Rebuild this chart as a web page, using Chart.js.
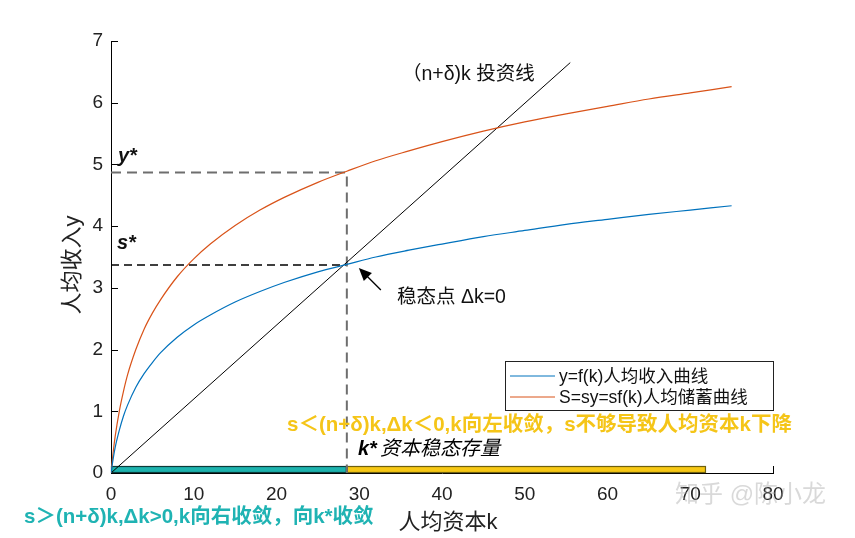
<!DOCTYPE html>
<html>
<head>
<meta charset="utf-8">
<script src="https://cdn.jsdelivr.net/npm/chart.js@4/dist/chart.umd.min.js"></script>
<style>
  html,body{margin:0;padding:0;background:#fff;}
  #wrap{width:855px;height:538px;position:relative;}
</style>
</head>
<body>
<div id="wrap"><canvas id="c" width="855" height="538"></canvas></div>
<script>
// values
const kVals       = [0, 0.25, 0.5, 1, 1.5, 2, 3, 4, 5, 6, 8, 10, 12, 15, 18, 21, 25, 28.5, 32, 36, 40, 45, 50, 55, 60, 65, 70, 75];
const incomeVals  = [0, 0.22, 0.41, 0.69, 0.92, 1.10, 1.39, 1.61, 1.79, 1.95, 2.20, 2.40, 2.56, 2.77, 2.94, 3.09, 3.26, 3.38, 3.50, 3.61, 3.71, 3.83, 3.93, 4.03, 4.11, 4.19, 4.26, 4.33];
const savingVals  = [0, 0.32, 0.59, 1.00, 1.32, 1.59, 2.00, 2.33, 2.59, 2.81, 3.18, 3.47, 3.71, 4.01, 4.26, 4.47, 4.71, 4.89, 5.06, 5.22, 5.37, 5.54, 5.69, 5.82, 5.94, 6.06, 6.16, 6.26];
const investK     = [0, 55.5];
const investY     = [0, 6.65];
const kStar = 28.5;   // steady state capital
const yStar = 4.87;
const sStar = 3.37;
const kBarEnd = 71.9; // yellow bar end
const xTicks = [0, 10, 20, 30, 40, 50, 60, 70, 80];
const yTicks = [0, 1, 2, 3, 4, 5, 6, 7];

const SANS = '"Liberation Sans", "Noto Sans CJK SC", sans-serif';
const BLUE = '#0072BD', ORANGE = '#D95319';

const toPts = (xs, ys) => xs.map((x, i) => ({x, y: ys[i]}));

const annotations = {
  id: 'annotations',
  beforeDatasetsDraw(chart){
    const {ctx, chartArea:a, scales:{x, y}} = chart;
    const y0 = y.getPixelForValue(0);
    ctx.save();
    // inward tick marks (bars cover the lower ones)
    ctx.strokeStyle = '#000';
    ctx.lineWidth = 1;
    ctx.beginPath();
    yTicks.forEach(v => {
      const py = Math.round(y.getPixelForValue(v)) + 0.5;
      ctx.moveTo(a.left, py); ctx.lineTo(a.left + 7, py);
    });
    xTicks.forEach(v => {
      const px = Math.round(x.getPixelForValue(v)) + 0.5;
      ctx.moveTo(px, a.bottom); ctx.lineTo(px, a.bottom - 7);
    });
    ctx.stroke();
    // range bars along k axis
    const bars = [
      {from:0, to:kStar, fill:'#1db3ae', stroke:'#0b3b3a'},
      {from:kStar, to:kBarEnd, fill:'#f7c815', stroke:'#6e6010'}
    ];
    bars.forEach(b => {
      const x1 = x.getPixelForValue(b.from), x2 = x.getPixelForValue(b.to);
      ctx.fillStyle = b.fill;
      ctx.fillRect(x1, y0 - 7, x2 - x1, 7);
      ctx.strokeStyle = b.stroke;
      ctx.lineWidth = 1.2;
      ctx.strokeRect(x1 + 0.5, y0 - 6.5, x2 - x1 - 1, 6);
    });
    ctx.restore();
  },
  afterDraw(chart){
    const {ctx, scales:{x, y}} = chart;
    ctx.save();

    // axis titles
    ctx.fillStyle = '#222';
    ctx.font = '22px ' + SANS;
    ctx.textAlign = 'center';
    ctx.textBaseline = 'middle';
    ctx.fillText('人均资本k', 448, 523);
    ctx.save();
    ctx.translate(73, 265);
    ctx.rotate(-Math.PI / 2);
    ctx.fillText('人均收入y', 0, 0);
    ctx.restore();

    // line label
    ctx.textAlign = 'left';
    ctx.fillStyle = '#111';
    ctx.font = '19.5px ' + SANS;
    ctx.fillText('（n+δ)k 投资线', 402, 75);

    // y*, s*
    ctx.font = 'italic bold 20px ' + SANS;
    ctx.fillText('y*', x.getPixelForValue(0) + 7, y.getPixelForValue(yStar) - 16);
    ctx.fillText('s*', x.getPixelForValue(0) + 6, y.getPixelForValue(sStar) - 22);

    // steady-state arrow
    const ix = x.getPixelForValue(kStar), iy = y.getPixelForValue(sStar + 0.05);
    const tx = ix + 12, ty = iy + 6, sx = ix + 34, sy = iy + 28;
    ctx.strokeStyle = '#000';
    ctx.lineWidth = 1.3;
    ctx.beginPath(); ctx.moveTo(sx, sy); ctx.lineTo(tx + 4, ty + 4); ctx.stroke();
    const ang = Math.atan2(ty - sy, tx - sx);
    ctx.fillStyle = '#000';
    ctx.beginPath();
    ctx.moveTo(tx, ty);
    ctx.lineTo(tx - 14 * Math.cos(ang - 0.42), ty - 14 * Math.sin(ang - 0.42));
    ctx.lineTo(tx - 14 * Math.cos(ang + 0.42), ty - 14 * Math.sin(ang + 0.42));
    ctx.closePath(); ctx.fill();
    ctx.fillStyle = '#111';
    ctx.font = '19.5px ' + SANS;
    ctx.fillText('稳态点 Δk=0', 397, 298);

    // legend box
    const lx = 505, ly = 361, lw = 268, lh = 49;
    ctx.fillStyle = '#fff';
    ctx.fillRect(lx, ly, lw, lh);
    ctx.strokeStyle = '#222';
    ctx.lineWidth = 1;
    ctx.strokeRect(lx + 0.5, ly + 0.5, lw, lh);
    chart.data.datasets.slice(0, 2).forEach((ds, i) => {
      const ry = ly + 15 + i * 21;
      ctx.strokeStyle = ds.borderColor;
      ctx.beginPath(); ctx.moveTo(lx + 5, ry); ctx.lineTo(lx + 50, ry); ctx.stroke();
      ctx.fillStyle = '#111';
      ctx.font = '17.5px ' + SANS;
      ctx.fillText(ds.label, lx + 54, ry + 1);
    });

    // convergence notes
    ctx.font = 'bold 20.5px ' + SANS;
    ctx.fillStyle = '#f5c518';
    ctx.fillText('s＜(n+δ)k,Δk＜0,k向左收敛，s不够导致人均资本k下降', 287, 425);
    ctx.fillStyle = '#1fb3b3';
    ctx.fillText('s＞(n+δ)k,Δk>0,k向右收敛，向k*收敛', 24, 517);

    ctx.fillStyle = '#000';
    ctx.font = 'italic bold 20px ' + SANS;
    ctx.fillText('k*', 358, 449);
    ctx.font = 'italic 20px ' + SANS;
    ctx.fillText('资本稳态存量', 380, 449);

    // watermark
    ctx.fillStyle = 'rgba(160,160,160,0.4)';
    ctx.font = '24px ' + SANS;
    ctx.fillText('知乎 @陈小龙', 675, 495);
    ctx.restore();
  }
};

new Chart(document.getElementById('c'), {
  type: 'line',
  data: {
    datasets: [
      {label:'y=f(k)人均收入曲线', data: toPts(kVals, incomeVals), borderColor: BLUE, borderWidth: 1.2, pointRadius: 0, cubicInterpolationMode: 'monotone'},
      {label:'S=sy=sf(k)人均储蓄曲线', data: toPts(kVals, savingVals), borderColor: ORANGE, borderWidth: 1.2, pointRadius: 0, cubicInterpolationMode: 'monotone'},
      {label:'(n+δ)k', data: toPts(investK, investY), borderColor: '#000', borderWidth: 1, pointRadius: 0},
      {label:'y*', data: [{x:0, y:yStar}, {x:kStar, y:yStar}, {x:kStar, y:0}], borderColor: '#6e6e6e', borderWidth: 2, borderDash: [10, 6], pointRadius: 0},
      {label:'s*', data: [{x:0, y:sStar}, {x:kStar, y:sStar}], borderColor: '#000', borderWidth: 1.3, borderDash: [8, 5], pointRadius: 0}
    ]
  },
  options: {
    responsive: false,
    animation: false,
    layout: { padding: { left: 71, right: 82, top: 41, bottom: 35 } },
    plugins: { legend: { display: false }, tooltip: { enabled: false } },
    scales: {
      x: {
        type: 'linear', min: 0, max: 80,
        afterFit: s => { s.height = 30; },
        afterBuildTicks: s => { s.ticks = xTicks.map(v => ({value: v})); },
        grid: { display: false, drawTicks: false },
        border: { display: true, color: '#000', width: 1 },
        ticks: { color: '#222', font: { family: SANS, size: 19 }, padding: 10, maxRotation: 0 }
      },
      y: {
        min: 0, max: 7,
        afterFit: s => { s.width = 40; },
        afterBuildTicks: s => { s.ticks = yTicks.map(v => ({value: v})); },
        grid: { display: false, drawTicks: false },
        border: { display: true, color: '#000', width: 1 },
        ticks: { color: '#222', font: { family: SANS, size: 19 }, padding: 8 }
      }
    }
  },
  plugins: [annotations]
});
</script>
</body>
</html>
